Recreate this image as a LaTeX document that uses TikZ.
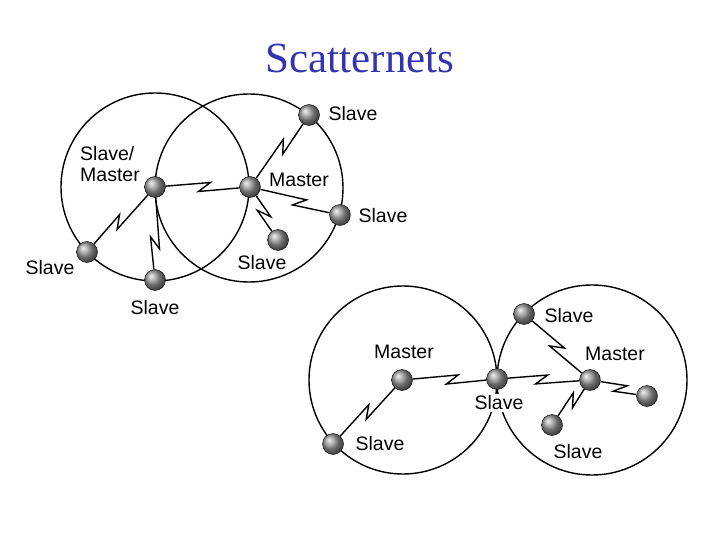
\documentclass[tikz,border=0pt]{standalone}
\usepackage{fontspec}
\setmainfont{Liberation Serif}
\setsansfont{Liberation Sans}
\usepackage{tikz}
\usetikzlibrary{calc}
\definecolor{titleblue}{RGB}{52,52,178}

\begin{document}
\begin{tikzpicture}
	[x=1pt,y=-1pt,
	dev/.style={circle,draw=black,thin,minimum size=21pt,inner sep=0pt,shading=ball,ball color=gray!80},
	txt/.style={font=\sffamily\fontsize{19.5}{21}\selectfont,inner sep=0pt,align=left},
	link/.style={line width=1.4pt,line join=miter}]
	\useasboundingbox (0,0) rectangle (720,540);
	\node[font=\fontsize{43}{45}\selectfont,text=titleblue] (title) at (360,58) {Scatternets};
	% piconet circles
	\draw[line width=1.4pt] (155,187) circle (94pt);
	\draw[line width=1.4pt] (249,188) circle (94pt);
	\draw[line width=1.4pt] (403,380) circle (94pt);
	\draw[line width=1.4pt] (592,380) circle (95pt);
	% upper scatternet
	\node[dev] (n1) at (155,187) {};
	\node[dev] (n2) at (250,187) {};
	\node[dev] (n3) at (87,252) {};
	\node[dev] (n4) at (155,280) {};
	\node[dev] (n5) at (309,115) {};
	\node[dev] (n6) at (340,215) {};
	\node[dev] (n7) at (278,240) {};
	% lower scatternet
	\node[dev] (n8) at (402,380) {};
	\node[dev] (n9) at (497,379) {};
	\node[dev] (n10) at (590,380) {};
	\node[dev] (n11) at (333,444) {};
	\node[dev] (n12) at (524,314) {};
	\node[dev] (n13) at (552,425) {};
	\node[dev] (n14) at (647,396) {};
	\foreach \from/\to/\f in {n1/n2/0.52,n2/n5/0.56,n2/n6/0.55,n2/n7/0.5,n1/n3/0.54,n1/n4/0.6,
		n8/n9/0.53,n9/n10/0.48,n8/n11/0.5,n10/n12/0.5,n10/n13/0.45,n10/n14/0.53}
	\draw[link] (\from) -- ($($(\from)!\f!(\to)$)!6pt!(\to)!4.5pt!90:(\to)$)
		-- ($($(\from)!\f!(\to)$)!-6pt!(\to)!4.5pt!-90:(\to)$) -- (\to);
	% labels
	\node[txt] (l1) at (110,164) {Slave/\\Master};
	\node[txt] (l2) at (299,180) {Master};
	\node[txt] (l3) at (353,114) {Slave};
	\node[txt] (l4) at (383,216) {Slave};
	\node[txt] (l5) at (50,268) {Slave};
	\node[txt] (l6) at (155,308) {Slave};
	\node[txt] (l7) at (262,263) {Slave};
	\node[txt] (l8) at (404,352) {Master};
	\node[txt,fill=white,inner sep=2pt] (l9) at (499,403) {Slave};
	\node[txt] (l10) at (615,354) {Master};
	\node[txt] (l11) at (569,316) {Slave};
	\node[txt] (l12) at (380,444) {Slave};
	\node[txt] (l13) at (578,452) {Slave};
\end{tikzpicture}
\end{document}
